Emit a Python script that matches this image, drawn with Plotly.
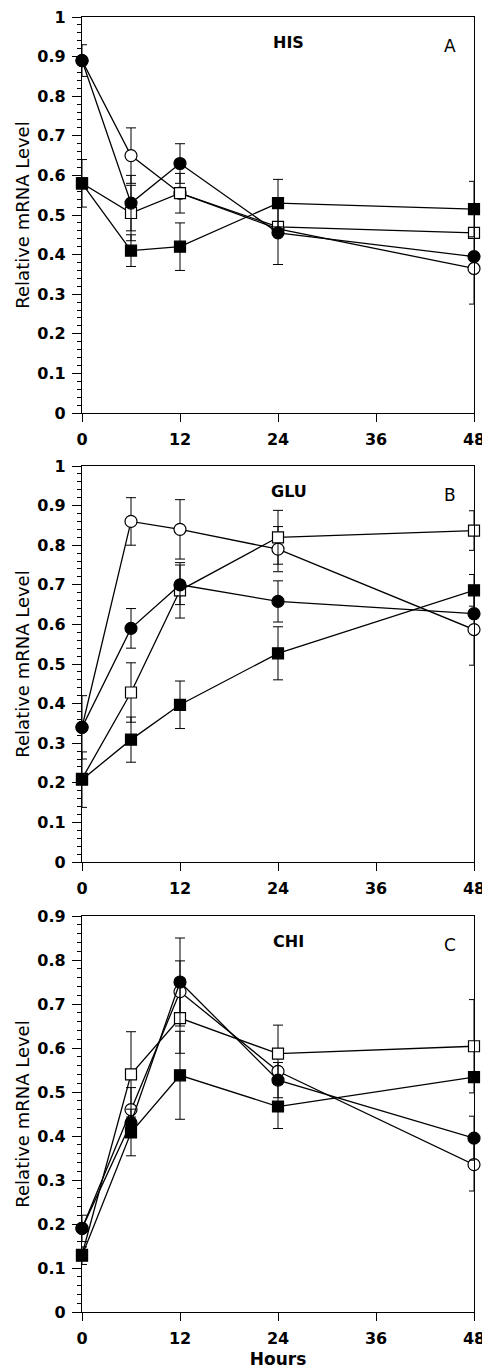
import plotly.graph_objects as go

hours = [0, 6, 12, 24, 48]
x_ticks = [0, 12, 24, 36, 48]

# Panel A: HIS
his_filled_circle = [0.89, 0.53, 0.63, 0.455, 0.395]
his_open_circle = [0.89, 0.65, 0.555, 0.465, 0.365]
his_open_square = [0.58, 0.505, 0.555, 0.47, 0.455]
his_filled_square = [0.58, 0.41, 0.42, 0.53, 0.515]
his_err_filled_circle = [0.04, 0.07, 0.05, 0.08, 0.0]
his_err_open_circle = [0.0, 0.07, 0.0, 0.0, 0.09]
his_err_open_square = [0.0, 0.07, 0.05, 0.0, 0.0]
his_err_filled_square = [0.06, 0.04, 0.06, 0.06, 0.07]

# Panel B: GLU
glu_filled_circle = [0.34, 0.59, 0.70, 0.658, 0.627]
glu_open_circle = [0.34, 0.86, 0.84, 0.79, 0.587]
glu_open_square = [0.21, 0.428, 0.686, 0.82, 0.837]
glu_filled_square = [0.208, 0.309, 0.397, 0.527, 0.686]
glu_err_filled_circle = [0.08, 0.05, 0.05, 0.052, 0.0]
glu_err_open_circle = [0.0, 0.06, 0.075, 0.057, 0.09]
glu_err_open_square = [0.0, 0.075, 0.07, 0.068, 0.05]
glu_err_filled_square = [0.07, 0.057, 0.06, 0.067, 0.04]

# Panel C: CHI
chi_filled_circle = [0.19, 0.43, 0.75, 0.527, 0.395]
chi_open_circle = [0.19, 0.46, 0.728, 0.547, 0.335]
chi_open_square = [0.13, 0.54, 0.668, 0.587, 0.604]
chi_filled_square = [0.128, 0.408, 0.538, 0.467, 0.534]
chi_err_filled_circle = [0.03, 0.0, 0.10, 0.04, 0.05]
chi_err_open_circle = [0.0, 0.05, 0.07, 0.0, 0.06]
chi_err_open_square = [0.0, 0.097, 0.08, 0.065, 0.106]
chi_err_filled_square = [0.02, 0.053, 0.10, 0.05, 0.0]

panels = [
    dict(name="HIS", letter="A", ymax=1.0, axis="", series=[
        (his_open_circle, his_err_open_circle, "circle", "white"),
        (his_open_square, his_err_open_square, "square", "white"),
        (his_filled_circle, his_err_filled_circle, "circle", "black"),
        (his_filled_square, his_err_filled_square, "square", "black"),
    ]),
    dict(name="GLU", letter="B", ymax=1.0, axis="2", series=[
        (glu_open_circle, glu_err_open_circle, "circle", "white"),
        (glu_open_square, glu_err_open_square, "square", "white"),
        (glu_filled_circle, glu_err_filled_circle, "circle", "black"),
        (glu_filled_square, glu_err_filled_square, "square", "black"),
    ]),
    dict(name="CHI", letter="C", ymax=0.9, axis="3", series=[
        (chi_open_circle, chi_err_open_circle, "circle", "white"),
        (chi_open_square, chi_err_open_square, "square", "white"),
        (chi_filled_circle, chi_err_filled_circle, "circle", "black"),
        (chi_filled_square, chi_err_filled_square, "square", "black"),
    ]),
]

FONT = "DejaVu Sans"
# page body has an 8px default margin, so the figure is sized to fit inside 490x1369
W, H = 482, 1361
mt, mb, ml, mr = 9, 57, 74, 16
ph = H - mt - mb
panel_h = 396
tops_px = [9, 458, 908]

fig = go.Figure()
layout = dict(
    width=W, height=H,
    margin=dict(l=ml, r=mr, t=mt, b=mb, autoexpand=False),
    paper_bgcolor="white", plot_bgcolor="white",
    showlegend=False,
    font=dict(family=FONT, color="black", size=16),
)
annotations = []

for i, p in enumerate(panels):
    ax = p["axis"]
    top = tops_px[i]
    d_top = 1 - (top - mt) / ph
    d_bot = 1 - (top + panel_h - mt) / ph
    for vals, err, sym, fill in p["series"]:
        size = 12 if sym == "circle" else 11
        fig.add_trace(go.Scatter(
            x=hours, y=vals, mode="lines+markers",
            xaxis="x" + ax, yaxis="y" + ax,
            line=dict(color="black", width=1.3),
            marker=dict(symbol=sym, size=size, color=fill,
                        line=dict(color="black", width=1.2)),
            error_y=dict(type="data", array=err, visible=True,
                         color="black", thickness=1, width=5),
            cliponaxis=False,
        ))
    xkey = "xaxis" + ax
    ykey = "yaxis" + ax
    layout[xkey] = dict(
        domain=[0, 1], anchor="y" + ax, range=[0, 48], automargin=False,
        tickvals=x_ticks, ticks="outside", ticklen=8, tickwidth=1.2,
        tickcolor="black", showline=True, linecolor="black", linewidth=1.3,
        mirror=True, showgrid=False, zeroline=False, ticklabelstandoff=4,
        ticklabeloverflow="allow",
        tickfont=dict(family=FONT, size=16, color="black", weight="bold"),
    )
    if i == 2:
        layout[xkey]["title"] = dict(text="<b>Hours</b>", standoff=8,
                                     font=dict(family=FONT, size=17, color="black"))
    layout[ykey] = dict(
        domain=[d_bot, d_top], anchor="x" + ax, range=[0, p["ymax"]], automargin=False,
        dtick=0.1, tick0=0, ticks="outside", ticklen=9, tickwidth=1.2,
        tickcolor="black", showline=True, linecolor="black", linewidth=1.3,
        mirror=True, showgrid=False, zeroline=False, ticklabelstandoff=3,
        ticklabeloverflow="allow",
        minor=dict(dtick=0.02, ticks="outside", ticklen=4, tickcolor="black", tickwidth=1),
        tickfont=dict(family=FONT, size=16, color="black", weight="bold"),
        title=dict(text="Relative mRNA Level", standoff=3,
                   font=dict(family=FONT, size=18, color="black")),
    )
    annotations.append(dict(
        text="<b>" + p["name"] + "</b>", x=25.3, y=0.965, xref="x" + ax, yref="y" + ax + " domain",
        showarrow=False, font=dict(family=FONT, size=16, color="black"),
    ))
    annotations.append(dict(
        text=p["letter"], x=45, y=0.957, xref="x" + ax, yref="y" + ax + " domain",
        showarrow=False, font=dict(family=FONT, size=17, color="black"),
    ))

layout["annotations"] = annotations
fig.update_layout(**layout)
fig.write_html("out.html")
